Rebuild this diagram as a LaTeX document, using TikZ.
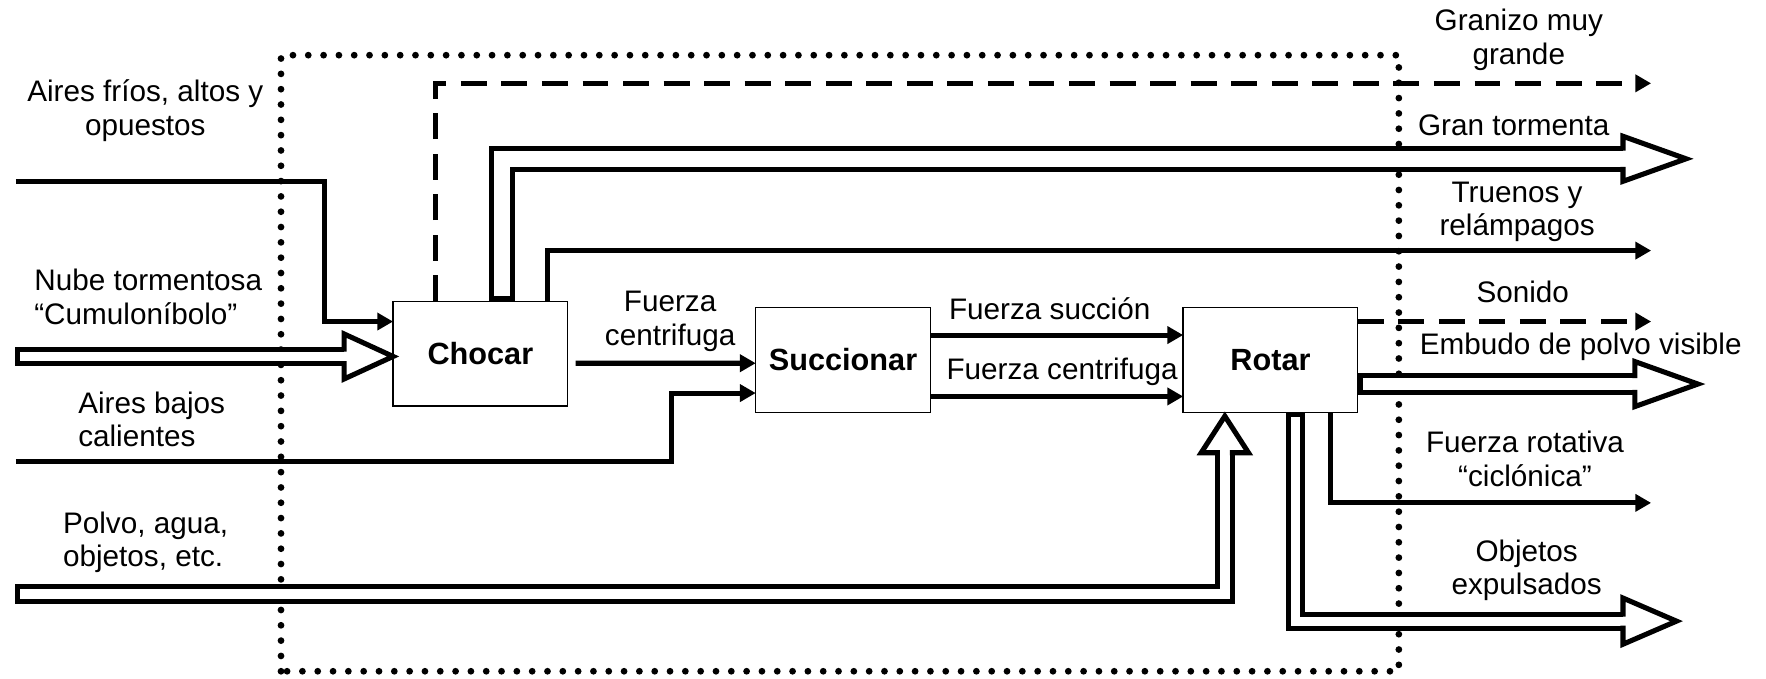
\documentclass[tikz,border=0pt]{standalone}
\usepackage{fontspec}
\setmainfont{Liberation Sans}
\usetikzlibrary{arrows.meta}

\begin{document}
\begin{tikzpicture}[every node/.style={font=\fontsize{15}{17}\selectfont, inner sep=0pt, outer sep=0pt},
  proc/.style={draw, line width=0.7pt, minimum width=3.1cm, minimum height=1.86cm, font=\fontsize{15.5}{18}\selectfont\bfseries},
  txt/.style={align=center},
  flow/.style={line width=0.9mm, -{Triangle[length=2.8mm,width=3mm]}},
  hint/.style={flow, dash pattern=on 4.6mm off 2.6mm},
  hollow/.style={draw=white, line width=#1, shorten <=0.9mm, preaction={draw=black, line width=#1+1.8mm, shorten <=0pt}},
  hollow/.default=1.7mm,
  head/.style={line width=0.9mm, line join=miter},
  limit/.style={line width=1.2mm, line cap=round, dash pattern=on 0pt off 2.72mm}]
\useasboundingbox (0,0) rectangle (31.36,12.04);

% system limit
\draw[limit] (4.99,0.12) rectangle (24.84,11.06);

% processes
\node[proc] (chocar) at (8.53,5.76) {Chocar};
\node[proc] (succ) at (14.97,5.65) {Succionar};
\node[proc] (rotar) at (22.56,5.65) {Rotar};

% inputs
\coordinate (frio) at (0.28,8.81);
\coordinate (nube) at (0.27,5.71);
\coordinate (bajo) at (0.28,3.84);
\coordinate (polvo) at (0.27,1.49);
\node[txt] (lfrio) at (2.58,10.07) {Aires fríos, altos y\\opuestos};
\node[align=left, anchor=west] (lnube) at (0.61,6.77) {Nube tormentosa\\“Cumuloníbolo”};
\node[align=left, anchor=west] (lbajo) at (1.39,4.59) {Aires bajos\\calientes};
\node[align=left, anchor=west] (lpolvo) at (1.12,2.41) {Polvo, agua,\\objetos, etc.};

\draw[flow] (frio) -| ([xshift=-12.2mm,yshift=5.7mm]chocar.west) -- ([yshift=5.7mm]chocar.west);
\draw[hollow] (nube) -- (6.11,5.71);
\draw[head] (6.11,5.795) -- (6.11,6.11) -- (chocar.west |- nube) -- (6.11,5.31) -- (6.11,5.625);
\draw[flow] (bajo) -| ([xshift=-14.9mm,yshift=-5.9mm]succ.west) -- ([yshift=-5.9mm]succ.west);
\draw[hollow=1.8mm] (polvo) -| (21.75,4.0);
\draw[head] (21.66,4.0) -- (21.33,4.0) -- ([xshift=-8.1mm,yshift=-0.7mm]rotar.south) -- (22.17,4.0) -- (21.84,4.0);

% between processes
\node[txt] (lcentri) at (11.9,6.33) {Fuerza\\centrifuga};
\node[txt] (lsuccion) at (18.64,6.56) {Fuerza succión};
\node[txt] (lcentri2) at (18.86,5.44) {Fuerza centrifuga};
\draw[flow] ([xshift=1.4mm,yshift=-1.7mm]chocar.east) -- ([yshift=-0.6mm]succ.west);
\draw[flow] ([yshift=4.4mm]succ.east) -- ([yshift=4.4mm]rotar.west);
\draw[flow] ([yshift=-6.5mm]succ.east) -- ([yshift=-6.5mm]rotar.west);

% outputs
\coordinate (granizo) at (29.32,10.56);
\coordinate (tormenta) at (29.94,9.22);
\coordinate (truenos) at (29.32,7.59);
\coordinate (sonido) at (29.32,6.33);
\coordinate (embudo) at (30.15,5.22);
\coordinate (rotativa) at (29.32,3.11);
\coordinate (objetos) at (29.77,1.01);
\node[txt] (lgranizo) at (26.97,11.33) {Granizo muy\\grande};
\node[txt] (ltormenta) at (26.88,9.82) {Gran tormenta};
\node[txt] (ltruenos) at (26.94,8.28) {Truenos y\\relámpagos};
\node[txt] (lsonido) at (27.04,6.86) {Sonido};
\node[txt] (lembudo) at (28.07,5.88) {Embudo de polvo visible};
\node[txt] (lrotativa) at (27.08,3.89) {Fuerza rotativa\\“ciclónica”};
\node[txt] (lobjetos) at (27.11,1.91) {Objetos\\expulsados};

\draw[hint] ([xshift=-7.96mm]chocar.north) |- (granizo);
\draw[hollow=2.9mm] ([xshift=3.84mm]chocar.north) |- (28.82,9.22);
\draw[head] (28.82,9.365) -- (28.82,9.62) -- (tormenta) -- (28.82,8.82) -- (28.82,9.075);
\draw[flow] ([xshift=11.9mm]chocar.north) |- (truenos);
\draw[hint] (rotar.east |- sonido) -- (sonido);
\draw[hollow=2.1mm] (rotar.east |- embudo) -- (29.03,5.22);
\draw[head] (29.03,5.325) -- (29.03,5.62) -- (embudo) -- (29.03,4.82) -- (29.03,5.115);
\draw[flow] ([xshift=10.7mm]rotar.south) |- (rotativa);
\draw[hollow=1.6mm] ([xshift=4.5mm]rotar.south) |- (28.82,1.01);
\draw[head] (28.82,1.09) -- (28.82,1.42) -- (objetos) -- (28.82,0.60) -- (28.82,0.93);
\end{tikzpicture}
\end{document}
